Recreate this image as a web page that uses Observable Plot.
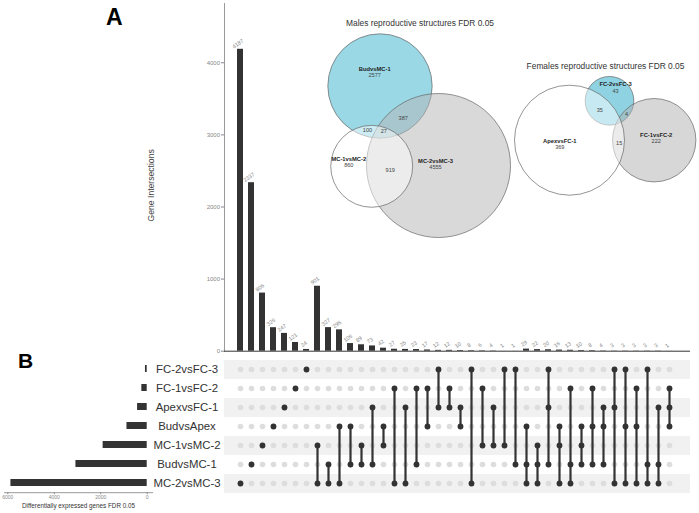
<!DOCTYPE html>
<html><head><meta charset="utf-8">
<script src="https://cdn.jsdelivr.net/npm/d3@7"></script>
<script src="https://cdn.jsdelivr.net/npm/@observablehq/plot@0.6"></script>
<style>
body{margin:0;background:#fff;}
#chart{position:relative;width:699px;height:513px;overflow:hidden;background:#fff;font-family:"Liberation Sans",Arial,sans-serif;}
#chart svg{position:absolute;left:0;top:0;background:transparent;overflow:visible;}
.panel-letter{position:absolute;font-weight:bold;color:#000;line-height:1;font-family:"Liberation Sans",Arial,sans-serif;}
</style></head><body><div id="chart"></div>
<script>
// ---------------- DATA ----------------
const setNames = ["FC-2vsFC-3","FC-1vsFC-2","ApexvsFC-1","BudvsApex","MC-1vsMC-2","BudvsMC-1","MC-2vsMC-3"];
const setSizes = [75, 231, 414, 871, 1897, 3068, 5866];

const intersectionCounts = [4187, 2337, 806, 326, 247, 121, 24,
  901, 327, 296, 106, 89, 73, 42, 27, 25, 23, 17, 12, 12, 10, 8, 6, 4, 1, 1,
  29, 22, 20, 16, 13, 10, 8, 4, 3, 3, 3, 3, 3, 1];
const intersectionSets = [
  ["MC-2vsMC-3"], ["BudvsMC-1"], ["MC-1vsMC-2"], ["BudvsApex"], ["ApexvsFC-1"], ["FC-1vsFC-2"], ["FC-2vsFC-3"],
  ["MC-1vsMC-2","MC-2vsMC-3"], ["BudvsMC-1","MC-2vsMC-3"], ["BudvsApex","MC-2vsMC-3"], ["BudvsApex","BudvsMC-1"],
  ["MC-1vsMC-2","BudvsMC-1"], ["ApexvsFC-1","BudvsMC-1"], ["BudvsApex","MC-1vsMC-2"], ["FC-1vsFC-2","MC-2vsMC-3"],
  ["ApexvsFC-1","MC-2vsMC-3"], ["FC-1vsFC-2","BudvsMC-1"], ["FC-1vsFC-2","BudvsApex"], ["FC-2vsFC-3","ApexvsFC-1"],
  ["FC-1vsFC-2","ApexvsFC-1"], ["ApexvsFC-1","BudvsApex"], ["FC-2vsFC-3","MC-2vsMC-3"], ["FC-1vsFC-2","MC-1vsMC-2"],
  ["ApexvsFC-1","MC-1vsMC-2"], ["FC-2vsFC-3","MC-1vsMC-2"], ["FC-2vsFC-3","BudvsMC-1"],
  ["BudvsApex","BudvsMC-1","MC-2vsMC-3"], ["MC-1vsMC-2","BudvsMC-1","MC-2vsMC-3"], ["FC-2vsFC-3","ApexvsFC-1","BudvsMC-1"],
  ["BudvsApex","MC-1vsMC-2","MC-2vsMC-3"], ["FC-1vsFC-2","BudvsMC-1","MC-2vsMC-3"], ["BudvsApex","MC-1vsMC-2","BudvsMC-1"],
  ["FC-1vsFC-2","BudvsApex","BudvsMC-1"], ["ApexvsFC-1","BudvsApex","BudvsMC-1"], ["FC-2vsFC-3","ApexvsFC-1","MC-2vsMC-3"],
  ["FC-2vsFC-3","BudvsApex","MC-2vsMC-3"], ["FC-1vsFC-2","BudvsApex","MC-2vsMC-3"], ["FC-2vsFC-3","BudvsMC-1","MC-2vsMC-3"],
  ["ApexvsFC-1","BudvsMC-1","MC-2vsMC-3"], ["FC-1vsFC-2","ApexvsFC-1","BudvsApex"]
];
const yTicks = [0, 1000, 2000, 3000, 4000];
const setSizeTicks = [0, 2000, 4000, 6000];
const yAxisLabel = "Gene Intersections";
const setSizeLabel = "Differentially expressed genes FDR 0.05";

// Venn diagrams
const maleTitle = "Males reproductive structures FDR 0.05";
const maleSetNames = ["BudvsMC-1", "MC-2vsMC-3", "MC-1vsMC-2"];
const maleSetTotals = [3091, 5888, 1906];
const maleRegionKeys = ["BudvsMC-1", "MC-2vsMC-3", "MC-1vsMC-2", "Bud&MC2", "Bud&MC1", "MC1&MC2", "all"];
const maleRegionCounts = [2577, 4555, 860, 387, 100, 919, 27];

const femaleTitle = "Females reproductive structures FDR 0.05";
const femaleSetNames = ["FC-2vsFC-3", "FC-1vsFC-2", "ApexvsFC-1"];
const femaleSetTotals = [82, 241, 419];
const femaleRegionKeys = ["FC-2vsFC-3", "FC-1vsFC-2", "ApexvsFC-1", "FC2&FC1", "FC2&Apex", "Apex&FC1"];
const femaleRegionCounts = [43, 222, 369, 4, 35, 15];

// ---------------- LAYOUT (pixels) ----------------
const W = 699, H = 513;
const VENN = {
  male: {
    rMax: 72,
    title: [419.5, 22.3],
    centers: {"BudvsMC-1": [379.5, 85.5], "MC-2vsMC-3": [438, 165], "MC-1vsMC-2": [371.2, 165.8]},
    labels: {"BudvsMC-1": [374.2, 68.2], "MC-2vsMC-3": [435, 160.5], "MC-1vsMC-2": [348.3, 158.6],
             "Bud&MC2": [402.7, 118], "Bud&MC1": [367, 130], "MC1&MC2": [389.7, 170], "all": [383.3, 130.7]}
  },
  female: {
    rMax: 55,
    title: [605, 66],
    centers: {"FC-2vsFC-3": [609, 100.3], "FC-1vsFC-2": [653.7, 139.7], "ApexvsFC-1": [569, 139.7]},
    labels: {"FC-2vsFC-3": [615, 83.8], "FC-1vsFC-2": [655.7, 134.6], "ApexvsFC-1": [559.3, 140.3],
             "FC2&FC1": [626, 113.7], "FC2&Apex": [599.3, 109.3], "Apex&FC1": [618.7, 142.3]}
  }
};
const VENN_STYLE = {
  "BudvsMC-1": {fill: "#9bd8e6", fillOpacity: 1}, "MC-2vsMC-3": {fill: "#b3b3b3", fillOpacity: 0.5}, "MC-1vsMC-2": {fill: "#ffffff", fillOpacity: 0.5},
  "FC-2vsFC-3": {fill: "#8fd3e3", fillOpacity: 1}, "FC-1vsFC-2": {fill: "#b0b0b0", fillOpacity: 0.5}, "ApexvsFC-1": {fill: "#ffffff", fillOpacity: 0.5}
};
const drawOrder = {male: ["BudvsMC-1", "MC-2vsMC-3", "MC-1vsMC-2"], female: ["FC-2vsFC-3", "FC-1vsFC-2", "ApexvsFC-1"]};

// ---------------- BUILD ----------------
const chart = document.getElementById("chart");
const font = "Liberation Sans, Arial, sans-serif";
function place(svg) { chart.appendChild(svg); }
const plain = d => String(d);

const cols = intersectionCounts.map((c, i) => ({id: i + 1, count: c, sets: intersectionSets[i]}));
const ids = cols.map(d => d.id);
const setRows = setNames.map((n, i) => ({name: n, size: setSizes[i]}));

// Intersection bars
place(Plot.plot({
  width: W, height: H,
  marginTop: 3, marginBottom: H - 350.7, marginLeft: 224, marginRight: 9,
  style: {fontFamily: font, background: "transparent"},
  x: {type: "band", domain: ids, paddingInner: 0.42, paddingOuter: 0.21, insetLeft: 5.4, insetRight: 11, axis: null},
  y: {domain: [0, 4822]},
  marks: [
    Plot.frame({anchor: "left", stroke: "#9a9a9a"}),
    Plot.axisY({ticks: yTicks, tickFormat: plain, tickSize: 3, tickPadding: 1.5, fontSize: 6, color: "#888", label: null}),
    Plot.barY(cols, {x: "id", y: "count", fill: "#333"}),
    Plot.ruleY([0], {stroke: "#333", strokeWidth: 1}),
    Plot.text(cols, {x: "id", y: "count", text: d => String(d.count), rotate: -35, dx: -2.5, dy: -5.5, fontSize: 5.5, fill: "#888"}),
    Plot.text([yAxisLabel], {text: d => d, frameAnchor: "left", textAnchor: "middle", lineAnchor: "middle", dx: -73.5, dy: 8, rotate: -90, fontSize: 8.6, fill: "#444"})
  ]
}));

// Matrix
const memberDots = cols.flatMap(d => d.sets.map(s => ({id: d.id, set: s})));
const multi = cols.filter(d => d.sets.length > 1).map(d => {
  const idx = d.sets.map(s => setNames.indexOf(s));
  return {id: d.id, top: setNames[d3.min(idx)], bottom: setNames[d3.max(idx)]};
});
place(Plot.plot({
  width: W, height: H,
  marginTop: 358.8, marginBottom: H - 492.2, marginLeft: 224, marginRight: 9,
  style: {fontFamily: font, background: "transparent"},
  x: {type: "point", domain: ids, padding: 0.5, insetLeft: 5.4, insetRight: 11, axis: null},
  y: {type: "point", domain: setNames, padding: 0.5, axis: null},
  marks: [
    Plot.ruleY(setNames.filter((_, i) => i % 2 === 0), {y: d => d, stroke: "#f1f1f1", strokeWidth: 19.06}),
    Plot.dot(d3.cross(ids, setNames), {x: d => d[0], y: d => d[1], r: 2.8, fill: "#dddddd"}),
    Plot.ruleX(multi, {x: "id", y1: "top", y2: "bottom", stroke: "#333", strokeWidth: 2.2}),
    Plot.dot(memberDots, {x: "id", y: "set", r: 2.9, fill: "#333"})
  ]
}));

// Set sizes
place(Plot.plot({
  width: W, height: H,
  marginTop: 358.8, marginBottom: H - 492.2, marginLeft: 4, marginRight: W - 152,
  style: {fontFamily: font, background: "transparent"},
  x: {domain: [0, 6000], reverse: true, insetLeft: 3.3, insetRight: 5.3},
  y: {type: "band", domain: setNames, paddingInner: 0.65, paddingOuter: 0.325, axis: null},
  marks: [
    Plot.barX(setRows, {y: "name", x: "size", fill: "#333"}),
    Plot.frame({anchor: "bottom", stroke: "#999"}),
    Plot.axisX({ticks: setSizeTicks, tickFormat: plain, tickSize: 2, tickPadding: 1, fontSize: 5, color: "#888", label: null}),
    Plot.text(setRows, {y: "name", text: "name", frameAnchor: "right", dx: 34.5, textAnchor: "middle", fontSize: 11.4, fill: "#333"}),
    Plot.text([setSizeLabel], {text: d => d, frameAnchor: "bottom", lineAnchor: "middle", dy: 13.6, fontSize: 6.3, fill: "#333"})
  ]
}));

// Venn diagrams
function vennPlot(key, names, totals, regionKeys, regionCounts, title) {
  const L = VENN[key];
  const circles = names.map((n, i) => ({name: n, total: totals[i], x: L.centers[n][0], y: L.centers[n][1]}));
  const regions = regionKeys.map((k, i) => ({key: k, count: regionCounts[i], x: L.labels[k][0], y: L.labels[k][1], named: names.includes(k)}));
  const marks = drawOrder[key].map(n => {
    const c = circles.find(d => d.name === n);
    return Plot.dot([c], {x: "x", y: "y", r: "total", fill: VENN_STYLE[n].fill, fillOpacity: VENN_STYLE[n].fillOpacity, stroke: "#666", strokeWidth: 0.7, sort: null});
  });
  marks.push(
    Plot.text(regions.filter(d => d.named), {x: "x", y: "y", text: "key", fontSize: 5.8, fontWeight: "bold", fill: "#222"}),
    Plot.text(regions, {x: "x", y: d => d.y + (d.named ? 6.6 : 0), text: d => String(d.count), fontSize: 5.6, fill: "#444"}),
    Plot.text([title], {x: L.title[0], y: L.title[1], text: d => d, fontSize: 8.4, fill: "#333"})
  );
  return Plot.plot({
    width: W, height: H, margin: 0,
    style: {fontFamily: font, background: "transparent"},
    x: {domain: [0, W], range: [0, W], axis: null},
    y: {domain: [0, H], range: [0, H], axis: null},
    r: {type: "sqrt", domain: [0, d3.max(totals)], range: [0, L.rMax]},
    marks
  });
}
place(vennPlot("male", maleSetNames, maleSetTotals, maleRegionKeys, maleRegionCounts, maleTitle));
place(vennPlot("female", femaleSetNames, femaleSetTotals, femaleRegionKeys, femaleRegionCounts, femaleTitle));

// Panel letters
const A = document.createElement("div");
A.className = "panel-letter"; A.textContent = "A";
A.style.cssText = "left:106px;top:6px;font-size:23px;";
chart.appendChild(A);
const B = document.createElement("div");
B.className = "panel-letter"; B.textContent = "B";
B.style.cssText = "left:18px;top:350px;font-size:21px;";
chart.appendChild(B);
</script></body></html>
